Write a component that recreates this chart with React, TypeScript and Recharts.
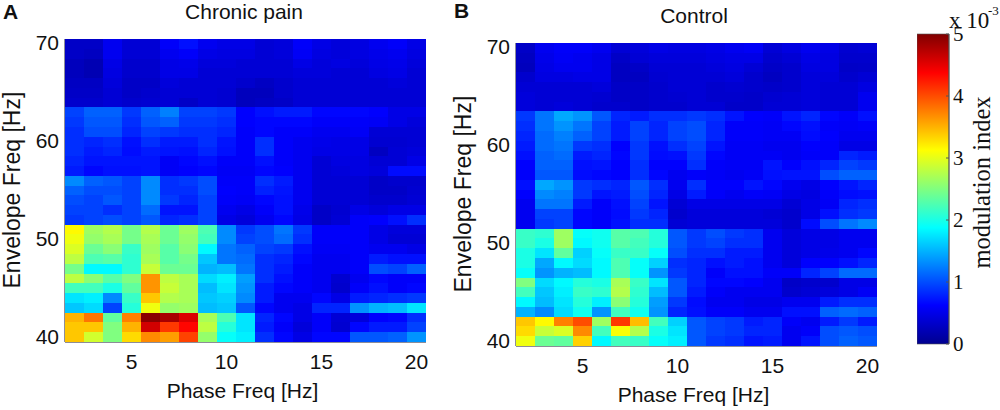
import { ScatterChart, Scatter, XAxis, YAxis, BarChart, Bar } from 'recharts';

const PHASE_FREQS = [2, 3, 4, 5, 6, 7, 8, 9, 10, 11, 12, 13, 14, 15, 16, 17, 18, 19, 20];
// top row first
const ENVELOPE_FREQS = [70, 69, 68, 67, 66, 65, 64, 63, 62, 61, 60, 59, 58, 57, 56, 55, 54, 53, 52, 51, 50, 49, 48, 47, 46, 45, 44, 43, 42, 41, 40];
const X_TICKS = [5, 10, 15, 20];
const Y_TICKS = [40, 50, 60, 70];
const BAR_TICKS = [0, 1, 2, 3, 4, 5];

// modulation index x 10^-3, one row per envelope freq
const CHRONIC_PAIN = [
  [.35,.35,.55,.42,.42,.6,.7,.55,.5,.5,.42,.45,.6,.5,.45,.48,.55,.6,.5],
  [.35,.32,.55,.42,.42,.55,.6,.5,.48,.48,.42,.45,.58,.48,.45,.48,.52,.55,.48],
  [.3,.25,.5,.38,.38,.5,.52,.45,.45,.42,.42,.42,.5,.45,.48,.45,.5,.52,.45],
  [.3,.25,.48,.38,.38,.5,.5,.42,.42,.42,.42,.42,.45,.45,.42,.42,.48,.5,.42],
  [.33,.33,.45,.35,.35,.45,.42,.42,.42,.38,.33,.38,.42,.42,.42,.42,.42,.45,.42],
  [.35,.35,.42,.35,.38,.42,.42,.42,.4,.3,.3,.38,.42,.42,.42,.42,.42,.42,.42],
  [.38,.38,.42,.38,.4,.42,.35,.42,.4,.3,.33,.35,.42,.42,.42,.42,.42,.42,.42],
  [.95,1.1,1.1,.9,1.1,1.25,.95,.95,.9,.62,.7,.75,.75,.65,.65,.65,.62,.5,.5],
  [.9,1.05,1.05,.85,1.05,1.1,.9,.9,.85,.62,.65,.65,.65,.6,.6,.6,.58,.5,.45],
  [.85,1.0,1.0,.8,.95,.9,.85,.85,.8,.6,.65,.6,.6,.55,.55,.58,.42,.42,.42],
  [.85,.8,.85,.7,.85,.75,.75,.85,.72,.6,.85,.6,.55,.52,.5,.5,.4,.4,.42],
  [.85,.75,.8,.68,.75,.72,.7,.8,.7,.6,.85,.6,.55,.5,.5,.5,.32,.42,.45],
  [.8,.72,.72,.72,.72,.58,.65,.7,.6,.6,.7,.6,.55,.42,.48,.48,.42,.42,.5],
  [.75,.65,.7,.7,.72,.58,.62,.65,.58,.58,.65,.62,.55,.42,.45,.48,.45,.68,.68],
  [1.3,1.1,1.05,.95,1.3,.85,.9,1.0,.6,.6,.85,.75,.55,.42,.42,.42,.35,.38,.38],
  [1.1,1.0,1.0,.95,1.3,.85,.85,1.0,.62,.6,.78,.72,.55,.42,.42,.42,.35,.35,.4],
  [1.0,.95,1.05,.95,1.3,.9,.8,.95,.6,.58,.65,.7,.55,.42,.42,.42,.38,.38,.42],
  [.95,.95,.85,.95,1.15,.72,.72,.95,.55,.5,.6,.7,.52,.35,.4,.5,.45,.5,.5],
  [.9,.95,1.0,.95,1.05,.8,.85,.95,.5,.45,.55,.65,.5,.35,.42,.6,.62,.7,.85],
  [3.15,2.65,2.75,2.45,2.75,2.4,2.65,2.25,1.3,.9,1.0,1.2,.9,.6,.6,.6,.5,.45,.45],
  [3.05,2.6,2.7,2.45,2.7,2.4,2.6,2.2,1.3,.95,1.0,1.15,.85,.6,.6,.6,.5,.42,.42],
  [2.95,2.4,2.55,2.15,2.65,2.3,2.55,1.85,1.2,1.1,.95,.9,.7,.58,.58,.6,.55,.55,.5],
  [2.8,2.25,2.3,2.1,2.7,2.3,2.45,1.6,1.2,1.15,.85,.8,.65,.55,.55,.6,.75,.7,.7],
  [2.45,1.85,1.85,2.1,2.85,2.4,2.4,1.5,1.55,1.2,.85,.75,.6,.55,.55,.6,1.0,.95,1.1],
  [2.8,2.55,2.3,2.5,3.65,2.8,2.7,1.7,1.8,1.4,.85,.7,.6,.55,.4,.55,.65,.6,.6],
  [2.2,2.2,2.0,2.35,3.65,2.85,2.7,1.55,1.75,1.35,.75,.65,.6,.55,.38,.6,.7,.6,.65],
  [1.75,1.8,1.3,2.15,3.4,2.75,2.7,1.6,1.65,1.3,.75,.55,.55,.65,.5,.75,.8,.85,.9],
  [1.6,1.7,.95,2.05,3.05,2.6,2.65,1.55,1.6,1.05,.65,.55,.5,.8,.8,1.35,1.5,1.55,1.75],
  [3.5,3.8,2.35,3.75,4.95,4.8,4.55,2.7,2.25,1.75,.8,.65,.5,.6,.42,.45,.62,.65,.85],
  [3.4,3.4,2.5,3.5,4.6,4.1,4.35,2.8,2.05,1.75,.75,.6,.45,.6,.4,.65,.75,.75,.95],
  [3.4,2.9,2.5,3.3,3.7,3.6,4.05,2.6,1.9,1.8,.85,.65,.5,.65,.65,1.05,1.05,1.1,1.35],
];

const CONTROL = [
  [.35,.55,.6,.6,.55,.42,.45,.5,.48,.48,.5,.55,.58,.42,.48,.55,.5,.4,.42],
  [.32,.52,.58,.55,.5,.35,.42,.45,.45,.45,.48,.5,.5,.38,.42,.5,.48,.38,.38],
  [.3,.5,.55,.55,.5,.32,.35,.42,.42,.42,.45,.48,.42,.35,.38,.48,.48,.35,.36],
  [.38,.48,.48,.5,.5,.32,.32,.4,.42,.42,.42,.45,.38,.32,.38,.45,.45,.38,.42],
  [.42,.42,.42,.42,.45,.35,.35,.38,.42,.42,.38,.4,.38,.36,.38,.45,.42,.42,.48],
  [.45,.42,.42,.42,.4,.35,.35,.38,.4,.42,.38,.38,.36,.4,.42,.45,.42,.42,.55],
  [.45,.42,.45,.42,.38,.38,.35,.38,.38,.42,.42,.36,.36,.42,.42,.45,.42,.42,.55],
  [.9,1.2,1.45,1.35,1.05,.8,.75,.85,.85,.9,.85,.72,.62,.6,.72,.8,.65,.6,.7],
  [.85,1.2,1.35,1.2,.95,.75,.95,.8,.95,1.0,.8,.6,.6,.58,.65,.7,.6,.58,.6],
  [.8,1.15,1.25,1.1,.95,.75,.95,.8,.95,1.0,.8,.6,.6,.58,.58,.68,.62,.55,.55],
  [.75,1.15,1.2,.9,.85,.62,.9,.7,.85,.95,.72,.58,.58,.55,.55,.62,.6,.5,.5],
  [.7,1.1,1.15,.75,.8,.65,.9,.68,.7,.9,.65,.58,.58,.58,.55,.6,.6,.8,.75],
  [.62,1.1,1.1,.7,.72,.62,.85,.62,.62,.85,.6,.58,.58,.72,.62,.7,.8,.95,.9],
  [.6,1.05,1.05,.68,.65,.62,.85,.65,.55,.6,.58,.55,.58,.7,.72,.72,1.0,1.1,1.1],
  [.7,1.45,1.35,.9,.85,.8,1.05,.85,.55,.85,.62,.62,.72,.65,.55,.5,.62,.72,.8],
  [.62,1.3,1.25,.9,.72,.75,1.0,.8,.5,.75,.6,.55,.6,.58,.5,.48,.6,.68,.7],
  [.55,1.2,1.2,.75,.6,.7,.95,.72,.42,.5,.5,.5,.5,.5,.42,.5,.58,.8,.85],
  [.55,.95,.95,.65,.6,.68,.9,.8,.38,.45,.45,.45,.45,.42,.38,.5,.7,.85,.9],
  [.55,.9,.95,.65,.6,.7,.85,.85,.42,.45,.45,.45,.45,.45,.38,.68,1.0,1.2,1.3],
  [2.15,2.1,2.65,1.9,1.95,2.3,2.25,2.05,1.05,.9,1.0,.9,.85,.55,.45,.5,.5,.55,.55],
  [2.15,2.0,2.65,1.85,1.95,2.3,2.2,2.05,1.05,.9,.95,.85,.85,.55,.45,.5,.5,.55,.55],
  [2.0,1.75,2.35,1.65,1.9,2.15,2.15,1.9,1.0,.85,.85,.75,.75,.55,.45,.5,.52,.55,.65],
  [2.0,1.45,1.85,1.7,1.85,2.25,1.9,1.65,.85,.8,.7,.75,.7,.55,.45,.62,.62,.7,.8],
  [1.9,1.35,1.5,1.55,1.85,2.25,1.9,1.35,.9,.8,.6,.7,.7,.6,.6,.8,.95,1.15,1.15],
  [2.5,1.7,1.85,2.05,2.0,2.7,2.15,1.75,1.05,.8,.65,.65,.62,.55,.35,.38,.38,.5,.5],
  [2.2,1.6,1.8,2.15,2.1,2.75,2.1,1.55,1.05,.75,.6,.55,.55,.55,.38,.42,.45,.5,.58],
  [1.85,1.55,1.75,2.05,1.8,2.55,2.05,1.4,.9,.68,.55,.55,.5,.5,.55,.55,.75,.85,.85],
  [1.5,1.3,1.7,1.95,1.35,2.2,1.95,1.35,.8,.7,.6,.6,.55,.55,.7,.7,1.1,1.15,1.1],
  [3.4,3.15,3.75,4.0,2.65,4.1,3.45,2.2,1.65,1.05,.95,.9,.75,.8,.6,.55,.75,.9,.75],
  [3.3,2.85,2.95,3.7,2.2,3.1,2.75,2.0,1.75,1.05,.95,.9,.8,.8,.55,.6,1.0,1.05,1.0],
  [3.05,2.4,2.35,3.35,1.85,2.2,2.15,1.9,1.8,1.05,.9,.85,.72,.75,.55,.72,1.0,1.1,1.05],
];

const COLORBAR = [{ name: 'modulation index', top: 5 }];

const JET_STOPS: [number, string][] = [
  [0, '#00008f'],
  [0.125, '#0000ff'],
  [0.375, '#00ffff'],
  [0.625, '#ffff00'],
  [0.875, '#ff0000'],
  [1, '#800000'],
];

const SANS = '"Liberation Sans", Arial, sans-serif';
const SERIF = '"Liberation Serif", "Times New Roman", serif';
const AXIS_COLOR = '#1a1a33';
const PLOT_W = 361;
const PLOT_H = 303;
const CELL_W = PLOT_W / PHASE_FREQS.length;
const CELL_H = PLOT_H / ENVELOPE_FREQS.length;

// matlab jet, value in 0..5
function jet(v: number) {
  const t = Math.min(Math.max(v / 5, 0), 1);
  const ramp = (c: number) => Math.round(255 * Math.min(Math.max(1.5 - Math.abs(4 * t - c), 0), 1));
  return `rgb(${ramp(3)},${ramp(2)},${ramp(1)})`;
}

function HeatCell(props: any) {
  const { cx, cy, payload } = props;
  return (
    <rect
      x={cx - CELL_W / 2}
      y={cy - CELL_H / 2}
      width={CELL_W + 0.5}
      height={CELL_H + 0.5}
      fill={jet(payload.value)}
      shapeRendering="crispEdges"
    />
  );
}

function Heatmap({ rows, left, top }: { rows: number[][]; left: number; top: number }) {
  const points = rows.flatMap((row, r) =>
    row.map((value, c) => ({ phase: PHASE_FREQS[c], envelope: ENVELOPE_FREQS[r], value }))
  );
  const tickFont = { fontSize: 21, fontFamily: SANS, fill: '#111' };
  const labelFont = { fontSize: 21, fontFamily: SANS, fill: '#111' };
  const axisProps = { stroke: AXIS_COLOR, interval: 0 as const, allowDataOverflow: true };
  return (
    <div style={{ position: 'absolute', left: left - 65, top: top - 39 }}>
      <ScatterChart
        width={440}
        height={410}
        margin={{ top: 39, right: 14, bottom: 8, left: 5 }}
      >
        <XAxis
          {...axisProps}
          type="number"
          dataKey="phase"
          domain={[1.5, 20.5]}
          ticks={X_TICKS}
          tick={tickFont}
          tickSize={-3}
          tickMargin={15}
          height={60}
          label={{ value: 'Phase Freq [Hz]', position: 'insideBottom', offset: 4, dx: -3, style: labelFont }}
        />
        <YAxis
          {...axisProps}
          type="number"
          dataKey="envelope"
          domain={[39.5, 70.5]}
          ticks={Y_TICKS}
          tick={{ ...tickFont, dy: -1 }}
          tickSize={-3}
          tickMargin={9}
          width={60}
          label={{ value: 'Envelope Freq [Hz]', angle: -90, position: 'insideLeft', offset: 0, dx: 7, dy: 98, style: { ...labelFont, fontSize: 23 } }}
        />
        <XAxis
          {...axisProps}
          xAxisId="top"
          orientation="top"
          type="number"
          domain={[1.5, 20.5]}
          ticks={X_TICKS}
          tick={false}
          tickSize={-3}
          height={0}
        />
        <YAxis
          {...axisProps}
          yAxisId="right"
          orientation="right"
          type="number"
          domain={[39.5, 70.5]}
          ticks={Y_TICKS}
          tick={false}
          tickSize={-3}
          width={0}
        />
        <Scatter data={points} shape={HeatCell} isAnimationActive={false} />
      </ScatterChart>
    </div>
  );
}

function Colorbar() {
  return (
    <div style={{ position: 'absolute', left: 917, top: 14 }}>
      <BarChart
        width={60}
        height={350}
        data={COLORBAR}
        margin={{ top: 20, right: 0, bottom: 20, left: 0 }}
        barCategoryGap={0}
      >
        <defs>
          <linearGradient id="jet" x1="0" y1="1" x2="0" y2="0">
            {JET_STOPS.map(([offset, color]) => (
              <stop key={offset} offset={offset} stopColor={color} />
            ))}
          </linearGradient>
        </defs>
        <XAxis dataKey="name" hide />
        <YAxis
          orientation="right"
          type="number"
          domain={[0, 5]}
          ticks={BAR_TICKS}
          interval={0}
          width={28}
          stroke="#555"
          tickSize={-3}
          tickMargin={7}
          tick={{ fontSize: 21, fontFamily: SERIF, fill: '#111' }}
        />
        <Bar dataKey="top" fill="url(#jet)" stroke="#555" strokeWidth={0.6} isAnimationActive={false} />
      </BarChart>
    </div>
  );
}

export default function App() {
  return (
    <div style={{ position: 'absolute', left: 0, top: 0, width: 1000, height: 410, background: '#fff', overflow: 'hidden' }}>
      <Heatmap rows={CHRONIC_PAIN} left={65} top={39} />
      <Heatmap rows={CONTROL} left={516} top={43} />
      <Colorbar />

      <svg width={1000} height={410} style={{ position: 'absolute', left: 0, top: 0, pointerEvents: 'none' }}>
        <g fontFamily={SANS} fill="#111">
          <text x={3} y={18.5} fontSize={21} fontWeight={700}>A</text>
          <text x={454} y={18} fontSize={21} fontWeight={700}>B</text>
          <text x={244} y={19} fontSize={21} textAnchor="middle">Chronic pain</text>
          <text x={694} y={23} fontSize={21} textAnchor="middle">Control</text>
        </g>
        <g fontFamily={SERIF} fill="#111">
          <text x={949} y={28} fontSize={23}>x 10</text>
          <text x={988} y={15} fontSize={13}>-3</text>
          <text x={990} y={182.5} fontSize={24.5} textAnchor="middle" transform="rotate(-90 990 182.5)">modulation index</text>
        </g>
      </svg>
    </div>
  );
}
